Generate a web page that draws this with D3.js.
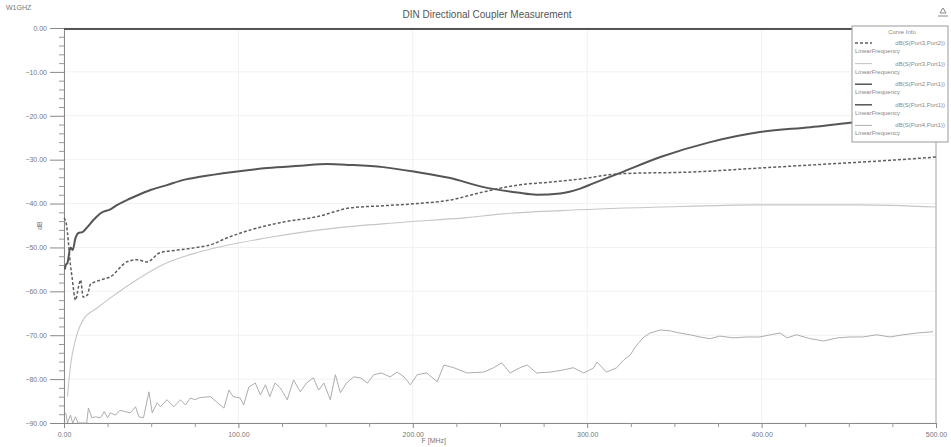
<!DOCTYPE html>
<head>
  <meta charset="utf-8">
  <style>
    body { margin: 0; background: white; font-family: "Liberation Sans", Arial, sans-serif; }
    .tick text { fill: #777; font-size: 7px; }
  </style>
  <script src="https://d3js.org/d3.v7.min.js"></script>
  <title>DIN Directional Coupler Measurement</title>
</head>
<body>
<div class="home"></div>
<script>
  // chart text
  const title = 'DIN Directional Coupler Measurement';
  const designName = 'W1GHZ';
  const xTitle = 'F [MHz]';
  const yTitle = 'dB';
  const xTickValues = [0, 100, 200, 300, 400, 500];
  const yTickValues = [0, -10, -20, -30, -40, -50, -60, -70, -80, -90];

  // [F MHz, dB]
  const s32 = [[0,-43.3],[1,-44],[2,-46.7],[3.7,-54],[4.6,-56.7],[6.6,-62],[8.3,-59],[9.5,-57.4],[11,-61.3],
    [13.5,-60.8],[15,-58.5],[21,-57.4],[26.6,-56.7],[36,-53.3],[42,-52.8],[47.6,-53.3],[55,-51.2],[65,-50.6],
    [74.5,-50.1],[84,-49.4],[93.6,-47.8],[107,-46],[126,-44.2],[145,-43],[164,-41],[183,-40.5],[202.5,-40],
    [221.5,-39.2],[240,-37.4],[260,-35.8],[279,-35.1],[296,-34.4],[319,-33.2],[361,-32.8],[399,-31.9],
    [437.5,-31.0],[475.5,-30.1],[500,-29.4]];
  const s31 = [[2,-84],[3.7,-77],[6.6,-71],[11,-66.5],[19,-63.8],[26.6,-61.5],[40,-57.8],[59,-53.5],[78,-51],
    [116.6,-47.8],[155,-45.6],[193,-44.3],[231,-43.2],[250,-42.4],[284.5,-41.6],[342,-40.8],[399,-40.3],
    [456,-40.3],[500,-40.8]];
  const s21 = [[0,-0.2],[100,-0.2],[200,-0.2],[300,-0.2],[400,-0.2],[500,-0.2]];
  const s11 = [[0.5,-55],[1,-54],[2,-53.5],[3.7,-50],[5,-50.6],[6.5,-48],[8.3,-46.7],[10.6,-46.5],[13.5,-45.3],
    [17,-43.7],[21,-42.2],[26.6,-41.3],[30.6,-40.3],[36,-39.2],[40,-38.5],[49.6,-36.9],[59,-35.8],[68.6,-34.6],
    [78,-33.9],[97,-32.8],[116.6,-31.9],[135.5,-31.4],[151,-31.0],[164,-31.2],[183,-31.7],[202,-32.8],
    [221.5,-34.2],[240,-36.2],[260,-37.5],[271,-38.0],[284.5,-37.7],[296,-36.6],[303.5,-35.4],[319,-33.0],
    [342,-29.4],[370.5,-26.0],[399,-23.7],[428,-22.6],[450.7,-21.6],[475,-20.8],[500,-20]];
  const s41 = [[1,-87.7],[2,-90],[3.7,-88.2],[5,-90],[6.6,-88.6],[8,-90],[13,-90],[14,-86.6],[16,-88.8],[18,-88.6],
    [21,-88.8],[23,-87.4],[25,-88.8],[26.6,-87.7],[29.5,-88.2],[32,-87.1],[35,-87.4],[38,-87.7],[41,-86.3],
    [43,-88.6],[45.6,-88.8],[48.7,-82.9],[50.6,-87.7],[53.4,-85.4],[55.3,-86.3],[59,-84.7],[63,-86.3],
    [66.8,-84.7],[69.6,-85.9],[72.5,-84.3],[75,-84.7],[78,-84.2],[84,-84],[88,-85.4],[91.7,-86.6],[94.6,-82.5],
    [97,-84],[101,-84.3],[103,-85.9],[106,-81.8],[109.7,-80.9],[112.6,-83.6],[115.5,-81.3],[118,-84],
    [121,-80.9],[124,-82],[128,-84.7],[131.6,-80.2],[135.5,-82.9],[139,-80.9],[143,-79.7],[146,-82.5],
    [149,-80.9],[152.7,-84.7],[155.6,-79],[158.5,-83.1],[162,-80.9],[166,-79.5],[170,-79.7],[174,-80.9],
    [177.6,-79],[182,-78.6],[187,-79.5],[191,-78.4],[195,-79.5],[198.6,-81.3],[202.5,-79],[208,-78.6],
    [214,-80.6],[217.8,-76.8],[223.5,-77.4],[231,-78.6],[240.7,-78.4],[246.4,-77.4],[251,-76.3],[255.8,-78.6],
    [261.5,-77.4],[265.6,-76.8],[271,-78.6],[279,-78.4],[286.5,-77.9],[292,-77.4],[298,-78.6],[303.6,-77.5],
    [305.6,-76.1],[311,-78.4],[317,-77.4],[321,-75.6],[324.7,-74.5],[327.5,-72.7],[332,-70.6],[336,-69.5],
    [342,-68.8],[347.6,-69],[353,-69.5],[359,-69.9],[364.7,-70.4],[370.5,-70.8],[376,-70.2],[384,-70.6],
    [391.6,-70.4],[399,-70.4],[405,-69.9],[410.6,-69.5],[414.6,-70.6],[420,-69.9],[428,-70.8],[435.6,-71.3],
    [443.5,-70.6],[450.7,-70.4],[458,-70.4],[466,-69.9],[473.6,-70.4],[481,-69.9],[489,-69.5],[498.3,-69.2]];

  const width = 951;
  const height = 447;

  const x = d3.scaleLinear().domain([0, 500]).range([64, 936]);
  const y = d3.scaleLinear().domain([-90, 0]).range([423, 28]);

  const svg = d3.select('.home').append('svg')
      .attr('width', width)
      .attr('height', height)
      .style('display', 'block');

  // faint grid
  svg.append('g').selectAll('line').data(yTickValues).enter().append('line')
      .attr('x1', x(0)).attr('x2', x(500))
      .attr('y1', d => y(d)).attr('y2', d => y(d))
      .attr('stroke', '#f1f1f1');
  svg.append('g').selectAll('line').data(xTickValues).enter().append('line')
      .attr('x1', d => x(d)).attr('x2', d => x(d))
      .attr('y1', y(0)).attr('y2', y(-90))
      .attr('stroke', '#f1f1f1');

  // right edge of frame
  svg.append('line').attr('x1', x(500)).attr('x2', x(500)).attr('y1', y(0)).attr('y2', y(-90))
      .attr('stroke', '#aaa');

  // y axis: major ticks out + minor every 2 dB
  const yAxis = d3.axisLeft(y).tickValues(yTickValues).tickSize(14).tickPadding(3)
      .tickFormat(d3.format('.2f'));
  svg.append('g').attr('transform', `translate(${x(0)},0)`).attr('color', '#888').call(yAxis);
  svg.append('g').attr('transform', `translate(${x(0)},0)`).attr('color', '#999')
      .call(d3.axisLeft(y).tickValues(d3.range(-90, 0, 2).filter(v => v % 10 !== 0)).tickSize(5).tickFormat(''))
      .call(g => g.select('.domain').remove());

  // x axis: major every 100, minor every 25
  const xAxis = d3.axisBottom(x).tickValues(xTickValues).tickSize(5).tickPadding(4)
      .tickFormat(d3.format('.2f'));
  svg.append('g').attr('transform', `translate(0,${y(-90)})`).attr('color', '#888').call(xAxis);
  svg.append('g').attr('transform', `translate(0,${y(-90)})`).attr('color', '#999')
      .call(d3.axisBottom(x).tickValues(d3.range(25, 500, 25).filter(v => v % 100 !== 0)).tickSize(4).tickFormat(''))
      .call(g => g.select('.domain').remove());

  const line = d3.line().x(d => x(d[0])).y(d => y(d[1]));
  const smooth = d3.line().x(d => x(d[0])).y(d => y(d[1])).curve(d3.curveMonotoneX);

  const series = [
    { name: 'dB(S(Port3,Port2))', data: s32, color: '#5e5e5e', w: 1.5, dash: '3,2', gen: smooth },
    { name: 'dB(S(Port3,Port1))', data: s31, color: '#c6c6c6', w: 1.1, dash: null, gen: smooth },
    { name: 'dB(S(Port2,Port1))', data: s21, color: '#555', w: 2, dash: null, gen: line },
    { name: 'dB(S(Port1,Port1))', data: s11, color: '#555', w: 2, dash: null, gen: smooth },
    { name: 'dB(S(Port4,Port1))', data: s41, color: '#a4a4a4', w: 0.9, dash: null, gen: line }
  ];

  svg.append('g').selectAll('path').data(series).enter().append('path')
      .attr('d', d => d.gen(d.data))
      .attr('fill', 'none')
      .attr('stroke', d => d.color)
      .attr('stroke-width', d => d.w)
      .attr('stroke-dasharray', d => d.dash);

  // titles
  svg.append('text').attr('x', 487).attr('y', 18).attr('text-anchor', 'middle')
      .attr('font-size', 10).attr('fill', '#555').text(title);
  svg.append('text').attr('x', 6).attr('y', 10)
      .attr('font-size', 7).attr('fill', '#777').text(designName);
  svg.append('text').attr('x', x(212)).attr('y', 443).attr('text-anchor', 'middle')
      .attr('font-size', 7).attr('fill', '#777').text(xTitle);
  svg.append('text').attr('transform', `translate(42,${y(-45)}) rotate(-90)`).attr('text-anchor', 'middle')
      .attr('font-size', 7).attr('fill', '#777').text(yTitle);

  // marker at top right
  svg.append('path').attr('d', 'M940,13 L943,8 L946,13 Z M938,16 L948,16')
      .attr('fill', 'none').attr('stroke', '#888');

  // legend
  const lg = svg.append('g').attr('transform', 'translate(852,26)');
  lg.append('rect').attr('width', 96).attr('height', 116)
      .attr('fill', 'white').attr('stroke', '#999');
  lg.append('text').attr('x', 50).attr('y', 8).attr('text-anchor', 'middle')
      .attr('font-size', 6).attr('fill', '#888').text('Curve Info');
  const item = lg.selectAll('.item').data(series).enter().append('g')
      .attr('transform', (d, i) => `translate(0,${17 + i * 20.6})`);
  item.append('line').attr('x1', 3).attr('x2', 20).attr('y1', 0).attr('y2', 0)
      .attr('stroke', d => d.color).attr('stroke-width', d => Math.min(d.w, 1.5))
      .attr('stroke-dasharray', d => d.dash);
  item.append('text').attr('x', 93).attr('y', 2).attr('text-anchor', 'end')
      .attr('font-size', 6).attr('fill', '#888').text(d => d.name);
  item.append('text').attr('x', 3).attr('y', 10)
      .attr('font-size', 6).attr('fill', '#888').text('LinearFrequency');
</script>
</body>
